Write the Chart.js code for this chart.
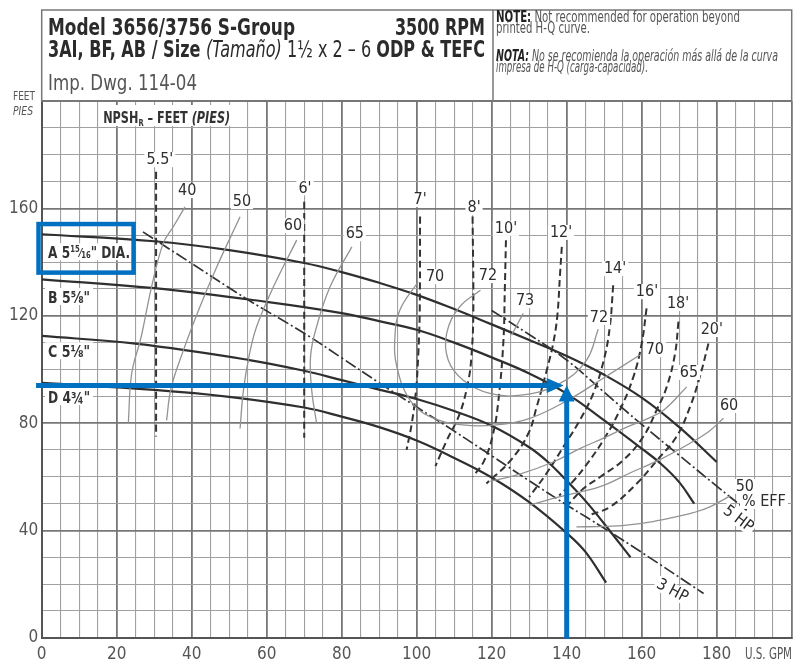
<!DOCTYPE html>
<html>
<head>
<meta charset="utf-8">
<script src="https://cdn.jsdelivr.net/npm/chart.js@4.4.1/dist/chart.umd.min.js"></script>
<style>
  html, body { margin: 0; padding: 0; background: #fff; }
  canvas { display: block; }
</style>
</head>
<body>
<canvas id="pump" width="801" height="663"></canvas>
<script>
// tick labels
const gpmTicks = [0, 20, 40, 60, 80, 100, 120, 140, 160, 180];
const feetTicks = [0, 40, 80, 120, 160];

// impeller H-Q curves  [GPM, feet]
const headA = [[0,150.4],[30,147.8],[50,144.5],[70,139.7],[80,136.3],[90,132.3],[100,127.8],[110,122.5],[120,116.8],[130,111],[140,105],[150,98],[160,89.5],[170,78.5],[180,65.5]];
const headB = [[0,133.6],[30,130.3],[60,125.2],[80,121],[90,118],[100,114.8],[110,110],[120,104.5],[130,98.5],[140,91],[150,81],[160,70.5],[165,65],[170,58],[174,50]];
const headC = [[0,112.5],[25,109.6],[55,103.6],[70,99.5],[80,96],[90,92.5],[100,89],[110,84.5],[120,79],[130,71],[135,65.5],[140,58.5],[145,51],[150,42.5],[157,30]];
const headD = [[0,95],[30,92.4],[50,89.8],[70,85.8],[80,82.4],[90,78.5],[100,73.5],[110,67],[120,59.7],[130,50.5],[140,39],[145,32],[150.5,20.5]];

// horsepower lines
const hp3 = [[27,151.3],[40,139.5],[55,126],[70,113.5],[80,104.3],[90,95],[100,86],[110,77],[120,67.8],[130,58.5],[140,49.5],[150,40.8],[160,31.8],[176.5,16.5]];
const hp5 = [[120,122],[130,113],[140,103.5],[150,91.5],[160,79.5],[170,68],[180,56.5],[188,47.5]];

// NPSHr lines
const npsh55 = [[30.5,173.7],[30.5,75]];
const npsh6 = [[70,162.5],[70,74.5]];
const npsh7 = [[100.9,157],[100.8,121],[100.4,105],[99.8,92],[98.7,80],[97.3,70]];
const npsh8 = [[114.9,157],[115.1,121],[114.6,105],[113.8,96],[111.5,83.6],[108,73.5],[105,64]];
const npsh10 = [[123.8,148.2],[123.5,130],[123.1,110],[121.8,88.6],[120.4,76.2],[118,66],[115,60]];
const npsh12 = [[138.7,145.7],[138.2,135],[137.5,120],[136.4,109.7],[134.7,99.8],[132,86.1],[129.8,76.2],[125,66],[118.6,57.5]];
const npsh14 = [[152.4,131.4],[151.5,115.9],[149.9,103.5],[147.1,91.1],[143.5,81.1],[139.5,72],[134.5,61],[130,52.5]];
const npsh16 = [[161.3,122.8],[160,109.7],[157.8,97.3],[154.2,84.9],[149.8,73.7],[145,64],[141.5,58],[138,53]];
const npsh18 = [[169.8,117.8],[168.9,106],[166.7,93.6],[164,84.9],[160.4,74.9],[155.1,66.2],[149,60],[144.4,55.5],[140,49]];
const npsh20 = [[177.8,109.7],[175.5,97.3],[172.9,86.1],[169.3,75],[164,66],[158.7,57.5],[151.6,48.8],[146,45.7]];

// efficiency contours
const eff40 = [[38.2,160.6],[35,153],[32.4,147],[29.3,130.8],[26.5,112],[24,98.5],[23.1,80]];
const eff50 = [[52.9,156.9],[46.7,138.3],[42.2,123.4],[37.8,107.2],[34.5,93],[33.3,81]];
const eff60 = [[68,148.2],[61.8,130.8],[57.3,115.9],[55.3,105],[53.8,92.3],[52.9,78]];
const eff65 = [[82.7,145.7],[76.9,130.8],[73.3,115.9],[71.7,105],[72,92.3],[73.3,80]];
const eff70 = [[100.4,132.7],[95.5,122.1],[94.2,112.2],[94.7,101],[98.2,88.6],[103.5,82.4],[112.4,79.3],[121.3,79.3],[130.2,81.8],[140,88.3],[148.9,96],[159.5,105.4]];
const eff72 = [[117,129.5],[111.5,123.4],[108,113.5],[108.4,103.5],[112.4,96],[119.5,91.1],[128.4,90.5],[138.2,94.8],[145.3,103.5],[148.4,115]];
const eff73 = [[128.4,120.9],[125.3,112.8]];
const eff65r = [[119.6,58.3],[127.5,61],[136.4,65.5],[143.5,70.5],[150,74.5],[156,78.5],[161.3,81.5],[166,85],[172,93.5]];
const eff60r = [[130,49.4],[138,52.5],[148.9,56.3],[157,61.5],[165,66.5],[172.9,72.5],[178,77],[181.8,81.8]];
const eff50r = [[142.6,41.3],[150,41.5],[156,42],[163,43.3],[169.3,45.1],[174,46.7],[178.2,48.8],[183.5,52.8]];

// duty point marked in blue
const dutyPoint = [140, 94];

// where the curve names sit  [text, GPM, feet]
const curveNames = [
  ["5.5'",31.5,178],["6'",70.2,167.5],["40",38.8,166.5],["50",53.4,162.4],["60",67,153.4],["65",83.5,150.4],
  ["7'",100.9,163.1],["8'",115.3,160.1],["10'",123.8,152.4],["12'",138.5,150.9],["14'",152.9,137.4],
  ["16'",161.4,128.8],["18'",169.7,124.4],["20'",178.7,114.7],["70",104.9,134.4],["72",119,134.8],
  ["73",128.9,125.5],["72",148.6,119.2],["70",163.5,107.2],["65",172.6,98.7],["60",183.3,86.4],
  ["50",187.5,56.2],["% EFF",192.6,50.6]
];

const FAM = '"Liberation Sans Narrow", "DejaVu Sans Condensed", "Liberation Sans", sans-serif';
const BLUE = '#0070c0';

function pts(a) { return a.map(p => ({ x: p[0], y: p[1] })); }

const looks = {
  head: { borderColor: '#2f2f2f', borderWidth: 2.2, borderDash: [] },
  eff:  { borderColor: '#939393', borderWidth: 1.3, borderDash: [] },
  npsh: { borderColor: '#333', borderWidth: 2, borderDash: [7, 4] },
  hp:   { borderColor: '#333', borderWidth: 1.7, borderDash: [12, 3, 2, 3] }
};

function curve(a, kind) {
  return Object.assign({
    data: pts(a), showLine: true, pointRadius: 0, tension: 0.4, fill: false
  }, looks[kind]);
}

const datasets = [
  ...[eff40, eff50, eff60, eff65, eff70, eff72, eff73, eff65r, eff60r, eff50r].map(a => curve(a, 'eff')),
  ...[npsh55, npsh6, npsh7, npsh8, npsh10, npsh12, npsh14, npsh16, npsh18, npsh20].map(a => curve(a, 'npsh')),
  ...[hp3, hp5].map(a => curve(a, 'hp')),
  ...[headA, headB, headC, headD].map(a => curve(a, 'head'))
];

function runFont(r, size) {
  return (r.i ? 'italic ' : '') + (r.b ? 'bold ' : '') + (r.s || size) + 'px ' + FAM;
}

// draws a row of styled pieces, squeezed to a given width
function drawRuns(ctx, runs, x, base, size, targetW, align, color) {
  let w = 0;
  runs.forEach(r => { ctx.font = runFont(r, size); r._w = ctx.measureText(r.t).width; w += r._w; });
  const sx = targetW ? targetW / w : 1;
  const left = align === 'right' ? x - w * sx : (align === 'center' ? x - w * sx / 2 : x);
  ctx.save();
  ctx.translate(left, base);
  ctx.scale(sx, 1);
  ctx.textAlign = 'left';
  ctx.textBaseline = 'alphabetic';
  let cx = 0;
  runs.forEach(r => {
    ctx.font = runFont(r, size);
    ctx.fillStyle = r.c || color || '#2b2b2b';
    ctx.fillText(r.t, cx, r.dy || 0);
    cx += r._w;
  });
  ctx.restore();
  return { left: left, width: w * sx };
}

function tag(ctx, text, px, py, rot) {
  ctx.save();
  ctx.translate(px, py);
  if (rot) ctx.rotate(rot * Math.PI / 180);
  ctx.font = '16px ' + FAM;
  const w = ctx.measureText(text).width;
  ctx.fillStyle = '#fff';
  ctx.fillRect(-w / 2 - 2, -8, w + 4, 15);
  ctx.fillStyle = '#2e2e2e';
  ctx.textAlign = 'center';
  ctx.textBaseline = 'middle';
  ctx.fillText(text, 0, 0);
  ctx.restore();
}

const extras = {
  id: 'extras',
  afterDatasetsDraw(chart) {
    const { ctx, scales: { x, y } } = chart;
    curveNames.forEach(([t, q, h]) => tag(ctx, t, x.getPixelForValue(q), y.getPixelForValue(h)));
    tag(ctx, '5 HP', x.getPixelForValue(185.7), y.getPixelForValue(44.2), 37);
    tag(ctx, '3 HP', x.getPixelForValue(168.1), y.getPixelForValue(17.4), 28);

    // NPSHr title
    const nx = x.getPixelForValue(16.4), ny = y.getPixelForValue(194.1);
    ctx.fillStyle = '#fff';
    ctx.fillRect(nx - 3, ny - 12, 133, 21);
    drawRuns(ctx, [{ t: 'NPSH', b: 1 }, { t: 'R', b: 1, s: 9, dy: 3 }, { t: ' – FEET ', b: 1 }, { t: '(PIES)', b: 1, i: 1 }],
      nx, ny + 6, 15, 127, 'left', '#333');

    // impeller diameters
    const dx = x.getPixelForValue(1.7);
    const dia = [
      [[{ t: 'A 5' }, { t: '15', s: 9, dy: -6 }, { t: '⁄', s: 12, dy: -1 }, { t: '16', s: 9, dy: 0 }, { t: '" DIA.' }], 143.7, 82],
      [[{ t: 'B 5⅝"' }], 127, 42],
      [[{ t: 'C 5⅛"' }], 106.8, 42],
      [[{ t: 'D 4¾"' }], 89.7, 42]
    ];
    dia.forEach(([runs, h, w]) => {
      const py = y.getPixelForValue(h);
      ctx.fillStyle = '#fff';
      ctx.fillRect(dx - 3, py - 9, w + 6, 17);
      runs.forEach(r => { r.b = 1; });
      drawRuns(ctx, runs, dx, py + 6, 16, w, 'left', '#333');
    });
  },
  afterDraw(chart) {
    const { ctx, chartArea: ca, scales: { x, y } } = chart;

    // header box
    ctx.save();
    ctx.strokeStyle = '#777';
    ctx.lineWidth = 1.5;
    ctx.strokeRect(ca.left, 10, ca.right - ca.left, ca.top - 10);
    ctx.beginPath();
    ctx.moveTo(493, 10);
    ctx.lineTo(493, ca.top);
    ctx.stroke();
    ctx.restore();

    drawRuns(ctx, [{ t: 'Model 3656/3756 S-Group', b: 1 }], 48, 35, 23.5, 247);
    drawRuns(ctx, [{ t: '3500 RPM', b: 1 }], 485, 35, 23.5, 90, 'right');
    drawRuns(ctx, [{ t: '3AI, BF, AB / Size ', b: 1 }, { t: '(Tamaño)', i: 1 }, { t: ' 1½ x 2 – 6 ' }, { t: 'ODP & TEFC', b: 1 }], 48, 57, 23.5, 437);
    drawRuns(ctx, [{ t: 'Imp. Dwg. 114-04' }], 48, 90, 22, 149, 'left', '#555');

    drawRuns(ctx, [{ t: 'NOTE:', b: 1, c: '#222' }, { t: ' Not recommended for operation beyond' }], 496, 21.5, 15.5, 244, 'left', '#555');
    drawRuns(ctx, [{ t: 'printed H-Q curve.' }], 496, 32.5, 15.5, 94, 'left', '#555');
    drawRuns(ctx, [{ t: 'NOTA:', b: 1, i: 1, c: '#222' }, { t: ' No se recomienda la operación más allá de la curva', i: 1 }], 496, 60.5, 15.5, 282, 'left', '#555');
    drawRuns(ctx, [{ t: 'impresa de H-Q (carga-capacidad).', i: 1 }], 496, 71.5, 15.5, 152, 'left', '#555');

    // axis units
    drawRuns(ctx, [{ t: 'FEET' }], 13, 100, 12, 22, 'left', '#555');
    drawRuns(ctx, [{ t: 'PIES', i: 1 }], 13, 115, 12, 20, 'left', '#555');
    drawRuns(ctx, [{ t: 'U.S. GPM' }], 745, 659, 16, 47, 'left', '#555');

    // blue markings
    const bx = x.getPixelForValue(dutyPoint[0]);
    const by = y.getPixelForValue(dutyPoint[1]);
    ctx.save();
    ctx.strokeStyle = BLUE;
    ctx.fillStyle = BLUE;
    ctx.lineWidth = 4.5;
    ctx.strokeRect(x.getPixelForValue(-0.85), y.getPixelForValue(154.2),
      x.getPixelForValue(24.5) - x.getPixelForValue(-0.85), y.getPixelForValue(136.1) - y.getPixelForValue(154.2));
    ctx.lineWidth = 5;
    ctx.beginPath();
    ctx.moveTo(x.getPixelForValue(-1.5), by);
    ctx.lineTo(bx - 18, by);
    ctx.moveTo(bx, y.getPixelForValue(0) + 1);
    ctx.lineTo(bx, by + 14);
    ctx.stroke();
    ctx.beginPath();
    ctx.moveTo(bx - 3, by);
    ctx.lineTo(bx - 20, by - 7.5);
    ctx.lineTo(bx - 20, by + 7.5);
    ctx.closePath();
    ctx.fill();
    ctx.beginPath();
    ctx.moveTo(bx, by);
    ctx.lineTo(bx - 8, by + 16);
    ctx.lineTo(bx + 8, by + 16);
    ctx.closePath();
    ctx.fill();
    ctx.restore();
  }
};

const isMajor = (c, step) => c.tick && Math.round(c.tick.value) % step === 0;

new Chart(document.getElementById('pump'), {
  type: 'scatter',
  data: { datasets: datasets },
  options: {
    responsive: false,
    animation: false,
    events: [],
    layout: { padding: { left: 0, top: 101.2, right: 9.3, bottom: 0 } },
    plugins: { legend: { display: false }, tooltip: { enabled: false } },
    scales: {
      x: {
        type: 'linear', min: 0, max: 200,
        afterFit: s => { s.height = 25.3; },
        ticks: {
          stepSize: 5, autoSkip: false, maxRotation: 0, padding: 7, color: '#555',
          font: { family: FAM, size: 17 },
          callback: v => gpmTicks.includes(v) ? String(v) : ''
        },
        grid: {
          drawTicks: false,
          color: c => isMajor(c, 20) ? '#777' : '#a0a0a0',
          lineWidth: c => isMajor(c, 20) ? 1.8 : 1.1
        },
        border: { color: '#555', width: 2 }
      },
      y: {
        type: 'linear', min: 0, max: 200,
        afterFit: s => { s.width = 41.7; },
        ticks: {
          stepSize: 10, autoSkip: false, padding: 3.5, color: '#555',
          font: { family: FAM, size: 17 },
          callback: v => feetTicks.includes(v) ? String(v) : ''
        },
        grid: {
          drawTicks: false,
          color: c => isMajor(c, 40) ? '#777' : '#a0a0a0',
          lineWidth: c => isMajor(c, 40) ? 1.8 : 1.1
        },
        border: { color: '#555', width: 2 }
      }
    }
  },
  plugins: [extras]
});
</script>
</body>
</html>
